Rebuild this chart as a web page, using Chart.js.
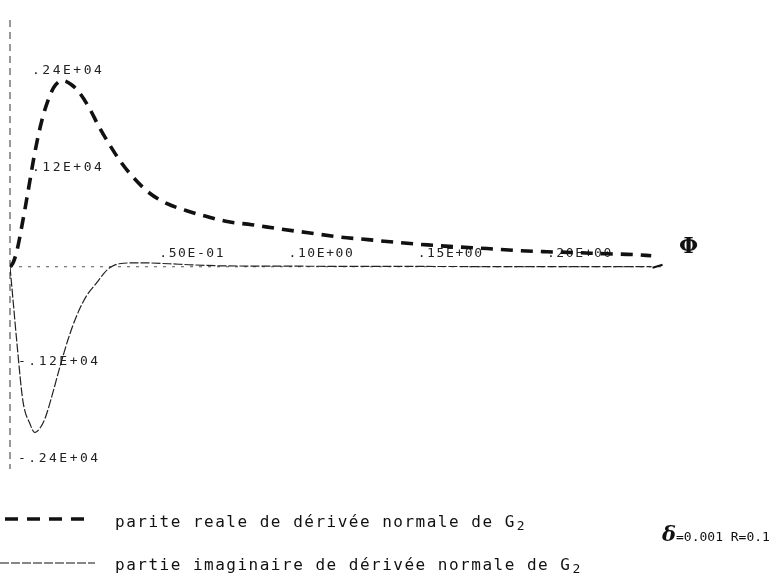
<!DOCTYPE html>
<html>
<head>
<meta charset="utf-8">
<script src="https://cdn.jsdelivr.net/npm/chart.js@4"></script>
<style>
    body { margin: 0; background: #fff; }
    #wrap { width: 778px; height: 587px; position: relative; }
</style>
</head>
<body>
<div id="wrap"><canvas id="derivChart"></canvas></div>
<script>
// values (phi in radians, derivative values)
const phiRe = [0, 0.0012, 0.0027, 0.0046, 0.0069, 0.0096, 0.0123, 0.0154, 0.0177, 0.0204, 0.0238, 0.0269, 0.0308, 0.0346, 0.0385, 0.0431, 0.0481, 0.0538, 0.0608, 0.0681, 0.0762, 0.0846, 0.0935, 0.1038, 0.1154, 0.1269, 0.1385, 0.150, 0.1615, 0.1731, 0.1846, 0.1962, 0.2077, 0.2192, 0.2308, 0.2423, 0.2481];
const realPart = [0, 50, 200, 505, 915, 1410, 1805, 2115, 2250, 2300, 2250, 2150, 1955, 1720, 1510, 1285, 1090, 915, 780, 695, 620, 555, 520, 470, 420, 370, 335, 300, 270, 245, 225, 200, 185, 175, 160, 150, 135];

const phiIm = [0, 0.0012, 0.0027, 0.005, 0.0077, 0.0096, 0.0115, 0.0135, 0.0162, 0.0192, 0.0223, 0.0258, 0.0296, 0.0335, 0.0365, 0.0392, 0.0423, 0.050, 0.0615, 0.0692, 0.0808, 0.10, 0.15, 0.20, 0.248];
const imagPart = [0, -420, -950, -1660, -1940, -2050, -2000, -1880, -1600, -1250, -915, -605, -360, -200, -75, 0, 37, 49, 37, 25, 12, 8, 4, 2, 1];

const yTicks = [2400, 1200, -1200, -2400];
const yTickLabels = ['.24E+04', '.12E+04', '-.12E+04', '-.24E+04'];
const xTicks = [0.05, 0.10, 0.15, 0.20];
const xTickLabels = ['.50E-01', '.10E+00', '.15E+00', '.20E+00'];

const legendLabels = ['parite reale de dérivée normale de G', 'partie imaginaire de dérivée normale de G'];
const noteText = '=0.001 R=0.1';

const mono = '"DejaVu Sans Mono", "Liberation Mono", monospace';
const ink = '#111';

function toPoints(xs, ys) {
    return xs.map((x, i) => ({ x: x, y: ys[i] }));
}

// axes, tick labels and legend drawn by hand, like the old plotter output
const paperPlugin = {
    id: 'paper',
    beforeDatasetsDraw(chart) {
        const { ctx, chartArea, scales } = chart;
        const x0 = scales.x.getPixelForValue(0);
        const y0 = scales.y.getPixelForValue(0);
        ctx.save();

        // vertical axis
        ctx.strokeStyle = '#333';
        ctx.lineWidth = 1;
        ctx.setLineDash([7, 5]);
        ctx.beginPath();
        ctx.moveTo(x0, chartArea.top);
        ctx.lineTo(x0, chartArea.bottom);
        ctx.stroke();

        // horizontal axis
        const xEnd = scales.x.getPixelForValue(0.2525);
        ctx.strokeStyle = '#555';
        ctx.setLineDash([3, 6]);
        ctx.beginPath();
        ctx.moveTo(x0, y0);
        ctx.lineTo(xEnd, y0);
        ctx.stroke();
        ctx.setLineDash([]);
        ctx.lineWidth = 2;
        ctx.strokeStyle = ink;
        ctx.beginPath();
        ctx.moveTo(xEnd - 10, y0 + 1);
        ctx.lineTo(xEnd, y0 - 2);
        ctx.stroke();

        // tick labels
        ctx.fillStyle = '#222';
        ctx.font = '13px ' + mono;
        ctx.letterSpacing = '2.5px';
        ctx.textBaseline = 'middle';
        ctx.textAlign = 'left';
        yTicks.forEach((v, i) => {
            const yy = scales.y.getPixelForValue(v) - 2;
            const dx = v < 0 ? 8 : 22;
            ctx.fillText(yTickLabels[i], x0 + dx, yy);
        });
        ctx.letterSpacing = '1.6px';
        xTicks.forEach((v, i) => {
            const xx = scales.x.getPixelForValue(v);
            ctx.fillText(xTickLabels[i], xx + 20, y0 - 13);
        });
        ctx.letterSpacing = '0px';

        // phi symbol at the end of the axis
        ctx.textBaseline = 'alphabetic';
        ctx.font = 'bold 22px "DejaVu Serif", serif';
        ctx.fillStyle = ink;
        ctx.fillText('Φ', 679, 253);
        ctx.restore();
    },
    afterDraw(chart) {
        const { ctx } = chart;
        ctx.save();
        ctx.strokeStyle = ink;
        ctx.fillStyle = ink;

        // legend line samples
        ctx.lineWidth = 3.5;
        ctx.setLineDash([13, 9]);
        ctx.beginPath();
        ctx.moveTo(5, 519);
        ctx.lineTo(88, 519);
        ctx.stroke();
        ctx.lineWidth = 1.2;
        ctx.setLineDash([9, 2]);
        ctx.beginPath();
        ctx.moveTo(0, 563);
        ctx.lineTo(95, 563);
        ctx.stroke();
        ctx.setLineDash([]);

        // legend texts with subscript 2
        ctx.textBaseline = 'alphabetic';
        const rows = [527, 570];
        legendLabels.forEach((t, i) => {
            ctx.font = '16px ' + mono;
            ctx.letterSpacing = '1.5px';
            ctx.fillText(t, 115, rows[i]);
            const w = ctx.measureText(t).width;
            ctx.font = '13px ' + mono;
            ctx.fillText('2', 115 + w + 1, rows[i] + 3);
        });
        ctx.letterSpacing = '0px';

        // delta and R note
        ctx.font = 'bold italic 21px "DejaVu Serif", serif';
        ctx.fillText('δ', 662, 541);
        ctx.font = '13px ' + mono;
        ctx.fillText(noteText, 676, 541);
        ctx.restore();
    }
};

const ctx = document.getElementById('derivChart').getContext('2d');
new Chart(ctx, {
    type: 'line',
    data: {
        datasets: [{
            label: 'parite reale',
            data: toPoints(phiRe, realPart),
            borderColor: ink,
            borderWidth: 3.6,
            borderDash: [12, 8],
            pointRadius: 0,
            cubicInterpolationMode: 'monotone',
            fill: false
        }, {
            label: 'partie imaginaire',
            data: toPoints(phiIm, imagPart),
            borderColor: '#222',
            borderWidth: 1.2,
            borderDash: [9, 2],
            pointRadius: 0,
            cubicInterpolationMode: 'monotone',
            fill: false
        }]
    },
    options: {
        responsive: true,
        maintainAspectRatio: false,
        animation: false,
        layout: { padding: { left: 10, top: 20, right: 118, bottom: 118 } },
        plugins: {
            legend: { display: false },
            tooltip: { enabled: false }
        },
        scales: {
            x: { type: 'linear', min: 0, max: 0.2515, display: false },
            y: { type: 'linear', min: -2500, max: 3050, display: false }
        }
    },
    plugins: [paperPlugin]
});
</script>
</body>
</html>
